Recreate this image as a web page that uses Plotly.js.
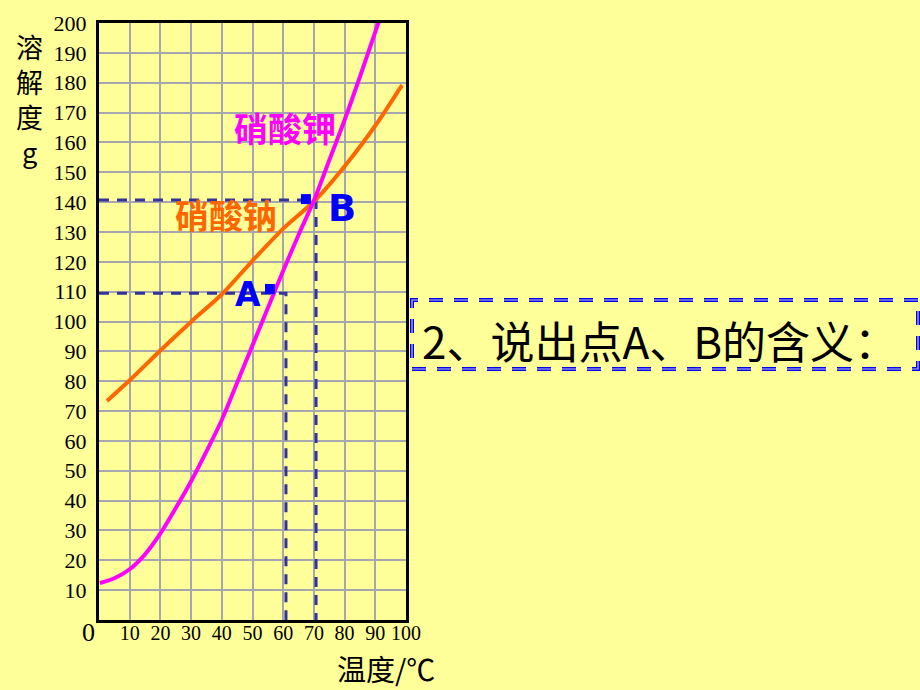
<!DOCTYPE html>
<html>
<head>
<meta charset="utf-8">
<script src="https://cdn.plot.ly/plotly-3.0.1.min.js"></script>
<style>html,body{margin:0;padding:0;background:#FFFF99;}#chart{width:920px;height:690px;}</style>
</head>
<body>
<div id="chart"></div>
<script>
// ---- data ----
const kno3Temp = [0.3, 5, 10, 15, 20, 25, 30, 35, 40, 45, 50, 55, 60, 65, 70, 75, 80, 85, 90, 92];
const kno3Sol  = [12.4, 14, 17, 22, 29, 37.5, 46.5, 56.5, 67, 79.5, 92, 104.5, 117, 129, 140.5, 154, 167.5, 182, 197, 203];
const nano3Temp = [2.6, 10.1, 20.5, 30.3, 40.1, 50.2, 60.6, 70.5, 80.8, 90.6, 98.7];
const nano3Sol  = [73.4, 80.4, 90.8, 100.2, 109.2, 120.6, 131.7, 140.7, 153, 166.5, 179.2];
const kno3Name = '硝酸钾';
const nano3Name = '硝酸钠';
const pointNames = ['A', 'B'];
const pointTemp = [60.9, 70.7];
const pointSol  = [109.5, 140.7];
const markTemp = [55.7, 67.4];
const markSol  = [110.9, 141.0];
const xTickVals = [10, 20, 30, 40, 50, 60, 70, 80, 90, 100];
const xTickText = ['10', '20', '30', '40', '50', '60', '70', '80', '90', '100'];
const yTickVals = [10, 20, 30, 40, 50, 60, 70, 80, 90, 100, 110, 120, 130, 140, 150, 160, 170, 180, 190, 200];
const yTickText = yTickVals.map(String);
const xTitle = '温度/℃';
const yTitle = ['溶', '解', '度', 'g'];
const question = '2、说出点A、B的含义：';

// ---- layout helpers (pixel -> paper) ----
const L = 99, R = 406, T = 23, B = 620;
const px = x => (x - L) / (R - L);
const py = y => (B - y) / (B - T);

const serif = 'Liberation Serif, Times New Roman, serif';
const cjk = 'Noto Sans CJK SC, sans-serif';

const traces = [];
for (let i = 0; i < pointNames.length; i++) {
  traces.push({
    x: [0, pointTemp[i], pointTemp[i]], y: [pointSol[i], pointSol[i], 0],
    mode: 'lines', line: {color: '#333399', width: 3, dash: '10px,8px'},
    hoverinfo: 'skip', showlegend: false
  });
}
traces.push({
  x: nano3Temp, y: nano3Sol, mode: 'lines', name: nano3Name,
  line: {color: '#FF6600', width: 4, shape: 'spline', smoothing: 0.8}, showlegend: false, cliponaxis: false
});
traces.push({
  x: kno3Temp, y: kno3Sol, mode: 'lines', name: kno3Name,
  line: {color: '#FF00FF', width: 4, shape: 'spline', smoothing: 0.8}, showlegend: false, cliponaxis: false
});
traces.push({
  x: markTemp, y: markSol, mode: 'markers',
  marker: {symbol: 'square', size: 10, color: '#0000FF'}, showlegend: false, hoverinfo: 'skip'
});

const annotations = [
  {xref: 'paper', yref: 'paper', x: px(29), y: py(99), xanchor: 'center', yanchor: 'middle',
   text: yTitle.join('<br>'), showarrow: false, font: {family: cjk, size: 27, color: '#000'}},
  {xref: 'paper', yref: 'paper', x: px(386), y: py(668), xanchor: 'center', yanchor: 'middle',
   text: xTitle, showarrow: false, font: {family: cjk, size: 29, color: '#000'}},
  {xref: 'paper', yref: 'paper', x: px(88), y: py(632), xanchor: 'center', yanchor: 'middle',
   text: '0', showarrow: false, font: {family: serif, size: 26, color: '#000'}},
  {xref: 'paper', yref: 'paper', x: px(285), y: py(128), xanchor: 'center', yanchor: 'middle',
   text: '<b>' + kno3Name + '</b>', showarrow: false, font: {family: cjk, size: 34, color: '#FF00FF'}},
  {xref: 'paper', yref: 'paper', x: px(226), y: py(215), xanchor: 'center', yanchor: 'middle',
   text: '<b>' + nano3Name + '</b>', showarrow: false, font: {family: cjk, size: 34, color: '#FF6600'}},
  {x: markTemp[0], y: markSol[0], xshift: -22, yshift: -6, xanchor: 'center', yanchor: 'middle',
   text: '<b>' + pointNames[0] + '</b>', showarrow: false, font: {family: 'DejaVu Sans, sans-serif', size: 33, color: '#0000FF'}},
  {x: markTemp[1], y: markSol[1], xshift: 36, yshift: -9, xanchor: 'center', yanchor: 'middle',
   text: '<b>' + pointNames[1] + '</b>', showarrow: false, font: {family: 'DejaVu Sans, sans-serif', size: 37, color: '#0000FF'}},
  {xref: 'paper', yref: 'paper', x: px(420), y: py(340), xanchor: 'left', yanchor: 'middle',
   text: question, showarrow: false, font: {family: cjk, size: 44, color: '#000'}}
];

const boxDash = '14px,11px';
const shapes = [
  {type: 'rect', xref: 'paper', yref: 'paper', x0: px(412), x1: px(918), y0: py(369), y1: py(300),
   line: {color: '#0000EE', width: 4, dash: boxDash}},
  {type: 'rect', xref: 'paper', yref: 'paper', x0: px(412), x1: px(918), y0: py(369), y1: py(300),
   line: {color: '#C8C8E8', width: 1.2, dash: boxDash}}
];

const layout = {
  width: 920, height: 690,
  paper_bgcolor: '#FFFF99', plot_bgcolor: '#FFFF99',
  margin: {l: L, r: 920 - R, t: T, b: 690 - B, pad: 0},
  showlegend: false,
  xaxis: {
    range: [0, 100], tickvals: xTickVals, ticktext: xTickText,
    showgrid: true, gridcolor: '#A6A6AE', gridwidth: 2,
    showline: true, linecolor: '#000', linewidth: 3, mirror: true,
    zeroline: false, ticks: '', ticklabelstandoff: -7,
    tickfont: {family: serif, size: 20, color: '#000'}, fixedrange: true
  },
  yaxis: {
    range: [0, 200], tickvals: yTickVals, ticktext: yTickText,
    showgrid: true, gridcolor: '#A6A6AE', gridwidth: 2,
    showline: true, linecolor: '#000', linewidth: 3, mirror: true,
    zeroline: false, ticks: '', ticklabelstandoff: 5,
    tickfont: {family: serif, size: 22, color: '#000'}, fixedrange: true
  },
  annotations: annotations,
  shapes: shapes
};

Plotly.newPlot('chart', traces, layout, {displayModeBar: false, staticPlot: true});
</script>
</body>
</html>
